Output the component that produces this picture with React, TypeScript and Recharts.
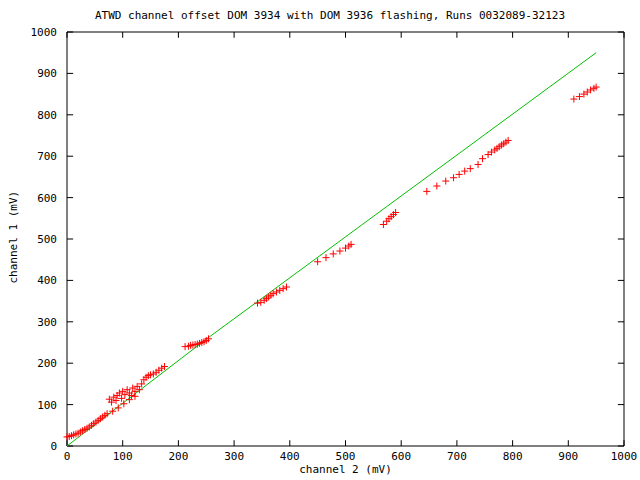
import {
  ReferenceArea,
  ReferenceLine,
  Scatter,
  ScatterChart,
  XAxis,
  YAxis,
} from 'recharts'

// channel 2 (x) and channel 1 (y), mV
const chan2 = [
  0, 4, 8, 12, 16, 20, 24, 28, 32, 36, 40, 44, 48, 52, 56, 60, 64, 68,
  72, 82, 92, 102, 112, 122,
  76, 80, 84, 88, 90, 94, 98, 100, 104, 108, 112, 116, 118, 122, 126, 130,
  134, 138, 142, 146, 150, 155, 160, 165, 170, 175,
  212, 218, 222, 226, 230, 234, 238, 242, 246, 250, 254,
  342, 348, 354, 358, 362, 366, 370, 376, 382, 388, 394,
  450, 465, 478, 490, 500, 506, 510,
  568, 574, 578, 582, 586, 590,
  646, 664, 680, 694, 704, 714, 724, 738, 746, 756, 762, 768, 772, 776, 780, 784, 788, 792,
  910, 920, 928, 934, 940, 946, 950,
]
const chan1 = [
  22, 23, 25, 27, 29, 31, 34, 37, 40, 43, 46, 50, 54, 58, 62, 66, 70, 74,
  78, 84, 92, 102, 112, 120,
  113, 106, 118, 110, 122, 128, 115, 132, 124, 136, 128, 122, 140, 132, 144, 136,
  150, 160, 166, 170, 172, 174, 178, 183, 188, 192,
  240, 241, 243, 244, 245, 246, 248, 250, 252, 255, 259,
  345, 347, 352, 356, 360, 364, 368, 372, 376, 380, 384,
  445, 455, 464, 471, 478, 483, 487,
  535, 543, 549, 554, 559, 564,
  615, 628, 640, 648, 656, 664, 670, 680, 694, 704, 710, 715, 719, 723, 727, 730, 734, 738,
  838, 844, 850, 855, 860, 864, 867,
]

// green reference line
const fitX = [0, 250, 950]
const fitY = [0, 258, 950]

const ticks = [0, 100, 200, 300, 400, 500, 600, 700, 800, 900, 1000]

const points = chan2.map((x, i) => ({ x, y: chan1[i] }))
const fit = fitX.map((x, i) => ({ x, y: fitY[i] }))

const FONT = "'DejaVu Sans Mono', monospace"
const RED = '#ff0000'
const GREEN = '#00c000'

function Cross({ cx, cy }: { cx?: number; cy?: number }) {
  if (cx == null || cy == null) return <g />
  return (
    <g stroke={RED} strokeWidth={1}>
      <line x1={cx - 3.5} x2={cx + 3.5} y1={cy} y2={cy} />
      <line x1={cx} x2={cx} y1={cy - 3.5} y2={cy + 3.5} />
    </g>
  )
}

const tickStyle = { fill: '#000', fontSize: 11, fontFamily: FONT }

export default function App() {
  return (
    <div
      style={{
        position: 'absolute',
        left: 0,
        top: 0,
        width: 640,
        height: 480,
        background: '#fff',
        fontFamily: FONT,
        fontSize: 11,
        color: '#000',
      }}
    >
      <ScatterChart
        width={640}
        height={480}
        margin={{ top: 32, right: 16, bottom: 4, left: 7 }}
      >
        <XAxis
          type="number"
          dataKey="x"
          domain={[0, 1000]}
          ticks={ticks}
          axisLine={false}
          tickLine={false}
          tickSize={0}
          tickMargin={6}
          height={30}
          tick={tickStyle}
          interval={0}
        />
        <YAxis
          type="number"
          dataKey="y"
          domain={[0, 1000]}
          ticks={ticks}
          axisLine={false}
          tickLine={false}
          tickSize={0}
          tickMargin={10}
          width={60}
          tick={tickStyle}
          interval={0}
        />
        {ticks.map((t) => (
          <ReferenceLine
            key={'b' + t}
            segment={[{ x: t, y: 0 }, { x: t, y: 14 }]}
            stroke="#000"
          />
        ))}
        {ticks.map((t) => (
          <ReferenceLine
            key={'t' + t}
            segment={[{ x: t, y: 1000 }, { x: t, y: 986 }]}
            stroke="#000"
          />
        ))}
        {ticks.map((t) => (
          <ReferenceLine
            key={'l' + t}
            segment={[{ x: 0, y: t }, { x: 11, y: t }]}
            stroke="#000"
          />
        ))}
        {ticks.map((t) => (
          <ReferenceLine
            key={'r' + t}
            segment={[{ x: 1000, y: t }, { x: 989, y: t }]}
            stroke="#000"
          />
        ))}
        <ReferenceArea
          x1={0}
          x2={1000}
          y1={0}
          y2={1000}
          fill="none"
          stroke="#000"
          strokeWidth={1}
          fillOpacity={0}
        />
        <Scatter
          data={fit}
          line={{ stroke: GREEN, strokeWidth: 1 }}
          shape={() => <g />}
          isAnimationActive={false}
        />
        <Scatter
          data={points}
          shape={(p: any) => <Cross cx={p.cx} cy={p.cy} />}
          isAnimationActive={false}
        />
      </ScatterChart>
      <div
        style={{
          position: 'absolute',
          top: 9,
          left: 0,
          width: 660,
          textAlign: 'center',
          whiteSpace: 'nowrap',
        }}
      >
        ATWD channel offset DOM 3934 with DOM 3936 flashing, Runs 0032089-32123
      </div>
      <div
        style={{
          position: 'absolute',
          top: 463,
          left: 67,
          width: 557,
          textAlign: 'center',
        }}
      >
        channel 2 (mV)
      </div>
      <div
        style={{
          position: 'absolute',
          top: 232,
          left: -32,
          width: 90,
          textAlign: 'center',
          transform: 'rotate(-90deg)',
          whiteSpace: 'nowrap',
        }}
      >
        channel 1 (mV)
      </div>
    </div>
  )
}
